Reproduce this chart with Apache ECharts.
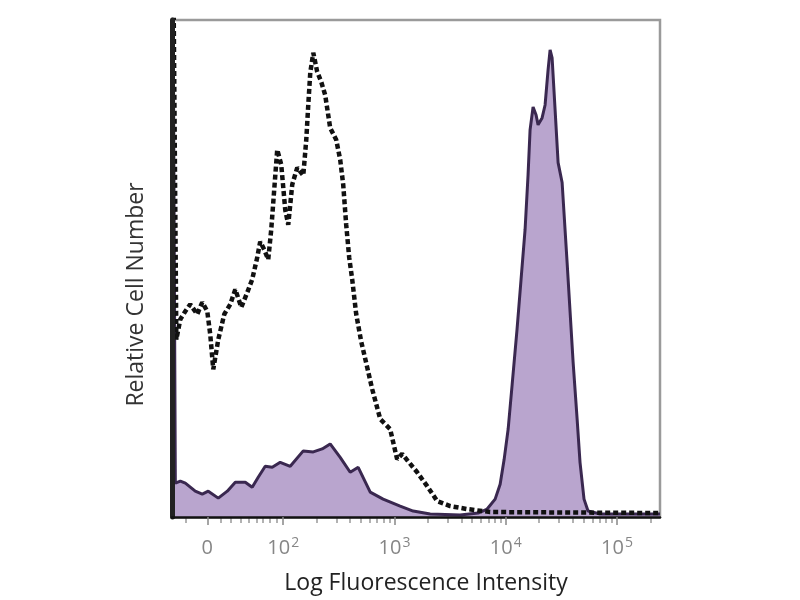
<!DOCTYPE html>
<html><head><meta charset="utf-8">
<script src="https://cdn.jsdelivr.net/npm/echarts@6/dist/echarts.min.js"></script>
<style>html,body{margin:0;padding:0;background:#fff}#c{width:800px;height:600px}</style>
</head><body><div id="c"></div>
<script>
// X positions are in display decades of the biexponential axis (0 -> 1.317, 10^n -> n)
const stainedX = [1.005,1.030,1.075,1.120,1.209,1.272,1.326,1.416,1.497,1.569,1.659,1.721,1.775,1.838,1.901,1.973,2.063,2.180,2.270,2.350,2.422,2.512,2.602,2.674,2.782,2.898,3.051,3.168,3.321,3.590,3.752,3.833,3.905,3.950,3.986,4.022,4.058,4.102,4.138,4.174,4.201,4.219,4.246,4.273,4.291,4.327,4.354,4.381,4.399,4.417,4.444,4.471,4.507,4.552,4.606,4.642,4.668,4.704,4.740,4.848,5.387];
const stainedY = [130,6.8,7.2,6.8,5.2,4.6,5.2,3.8,5.2,7.0,7.0,6.0,8.0,10.2,10.0,11.0,10.2,13.3,13.1,13.7,14.7,12.0,9.0,10.0,5.0,3.6,2.2,1.2,0.6,0.4,0.8,1.6,3.6,6.6,11.6,17.7,26.7,37.8,47.8,57.8,68.9,77.9,82.5,80.9,78.9,80.3,82.9,90.0,94.0,92.4,81.9,71.3,67.3,51.2,31.1,19.7,11.0,3.6,1.2,0.6,0.6];
const controlX = [1.005,1.039,1.075,1.120,1.164,1.227,1.272,1.317,1.344,1.371,1.416,1.470,1.524,1.569,1.623,1.677,1.721,1.766,1.793,1.829,1.865,1.892,1.919,1.946,1.982,2.018,2.045,2.081,2.126,2.180,2.207,2.225,2.243,2.270,2.305,2.341,2.377,2.422,2.476,2.512,2.539,2.566,2.593,2.620,2.656,2.701,2.755,2.800,2.872,2.961,3.024,3.069,3.123,3.204,3.294,3.384,3.500,3.653,3.860,5.387];
const controlY = [130,35.7,39.8,41.4,42.8,40.8,43.2,41.4,36.7,29.7,35.7,40.8,42.8,45.8,42.2,45.2,47.8,52.2,55.4,53.8,51.8,57.8,65.9,73.9,70.9,61.8,58.8,66.9,70.3,68.7,75.9,82.9,89.4,93.4,89.6,87.6,84.9,78.3,75.9,71.9,66.9,58.8,52.2,47.8,40.8,35.3,30.1,25.7,19.7,17.7,11.6,12.7,11.2,9.0,6.2,3.2,2.2,1.6,1.0,0.8];
const tickPos = [1.317, 2, 3, 4, 5];
const tickBase = ['0', '10', '10', '10', '10'];
const tickExp = ['', '2', '3', '4', '5'];
const linearMinorTicks = [1.12, 1.434, 1.524, 1.614, 1.686, 1.766, 1.820, 1.883, 1.946];
const decadeMinorMultipliers = [2, 3, 4, 5, 6, 7, 8, 9];

const minorTicks = linearMinorTicks.slice();
[2, 3, 4, 5].forEach(function (n) {
  decadeMinorMultipliers.forEach(function (k) {
    const v = n + Math.log10(k);
    if (v < 5.38) minorTicks.push(+v.toFixed(4));
  });
});

const zip = (xs, ys) => xs.map((x, i) => [x, ys[i]]);
const X_MIN = 1.0, X_MAX = 5.387;
const font = '"Open Sans", "DejaVu Sans", sans-serif';

const chart = echarts.init(document.getElementById('c'), null, {renderer: 'canvas'});
chart.setOption({
  animation: false,
  backgroundColor: '#ffffff',
  grid: {left: 172, right: 140, top: 20, bottom: 82, show: true, borderColor: '#9a9a9a', borderWidth: 2.5, containLabel: false},
  xAxis: [{
    type: 'value', min: X_MIN, max: X_MAX, position: 'bottom', z: 5,
    axisLine: {show: true, onZero: false, lineStyle: {color: '#111', width: 2.5}},
    splitLine: {show: false},
    axisTick: {show: true, customValues: tickPos, length: 8, lineStyle: {color: '#888', width: 1.5}},
    axisLabel: {
      show: true, customValues: tickPos, margin: 19,
      formatter: function (v) {
        const i = tickPos.indexOf(v);
        if (i < 0) return '';
        return tickExp[i] ? '{b|' + tickBase[i] + '}{s|' + tickExp[i] + '}' : '{b|' + tickBase[i] + '}';
      },
      rich: {
        b: {fontSize: 20, lineHeight: 22, color: '#868686', fontFamily: font, verticalAlign: 'bottom'},
        s: {fontSize: 14, lineHeight: 14, color: '#868686', fontFamily: font, verticalAlign: 'top', padding: [0, 0, 14, 1]}
      }
    },
    name: 'Log Fluorescence Intensity', nameLocation: 'middle', nameGap: 55,
    nameTextStyle: {fontSize: 23, color: '#222', fontFamily: font, padding: [0, 0, 0, 20]}
  }, {
    type: 'value', min: X_MIN, max: X_MAX, position: 'bottom',
    axisLine: {show: false, onZero: false},
    splitLine: {show: false},
    axisTick: {show: true, customValues: minorTicks, length: 6, lineStyle: {color: '#999', width: 1.5}},
    axisLabel: {show: false}
  }],
  yAxis: {
    type: 'value', min: 0, max: 100, z: 5,
    axisLine: {show: true, lineStyle: {color: '#222', width: 5}},
    axisTick: {show: false}, axisLabel: {show: false}, splitLine: {show: false},
    name: 'Relative Cell Number', nameLocation: 'middle', nameGap: 24,
    nameTextStyle: {fontSize: 23, color: '#333', fontFamily: font, padding: [0, 52, 0, 0]}
  },
  series: [{
    type: 'line', name: 'Stained', xAxisIndex: 0, data: zip(stainedX, stainedY),
    showSymbol: false, smooth: false, clip: true, z: 2,
    lineStyle: {color: '#3a2850', width: 3},
    areaStyle: {color: '#b9a5ce', opacity: 1}
  }, {
    type: 'line', name: 'Control', xAxisIndex: 0, data: zip(controlX, controlY),
    showSymbol: false, smooth: false, clip: true, z: 3,
    lineStyle: {color: '#111', width: 4.5, type: [5, 3]}
  }]
});
</script>
</body></html>
